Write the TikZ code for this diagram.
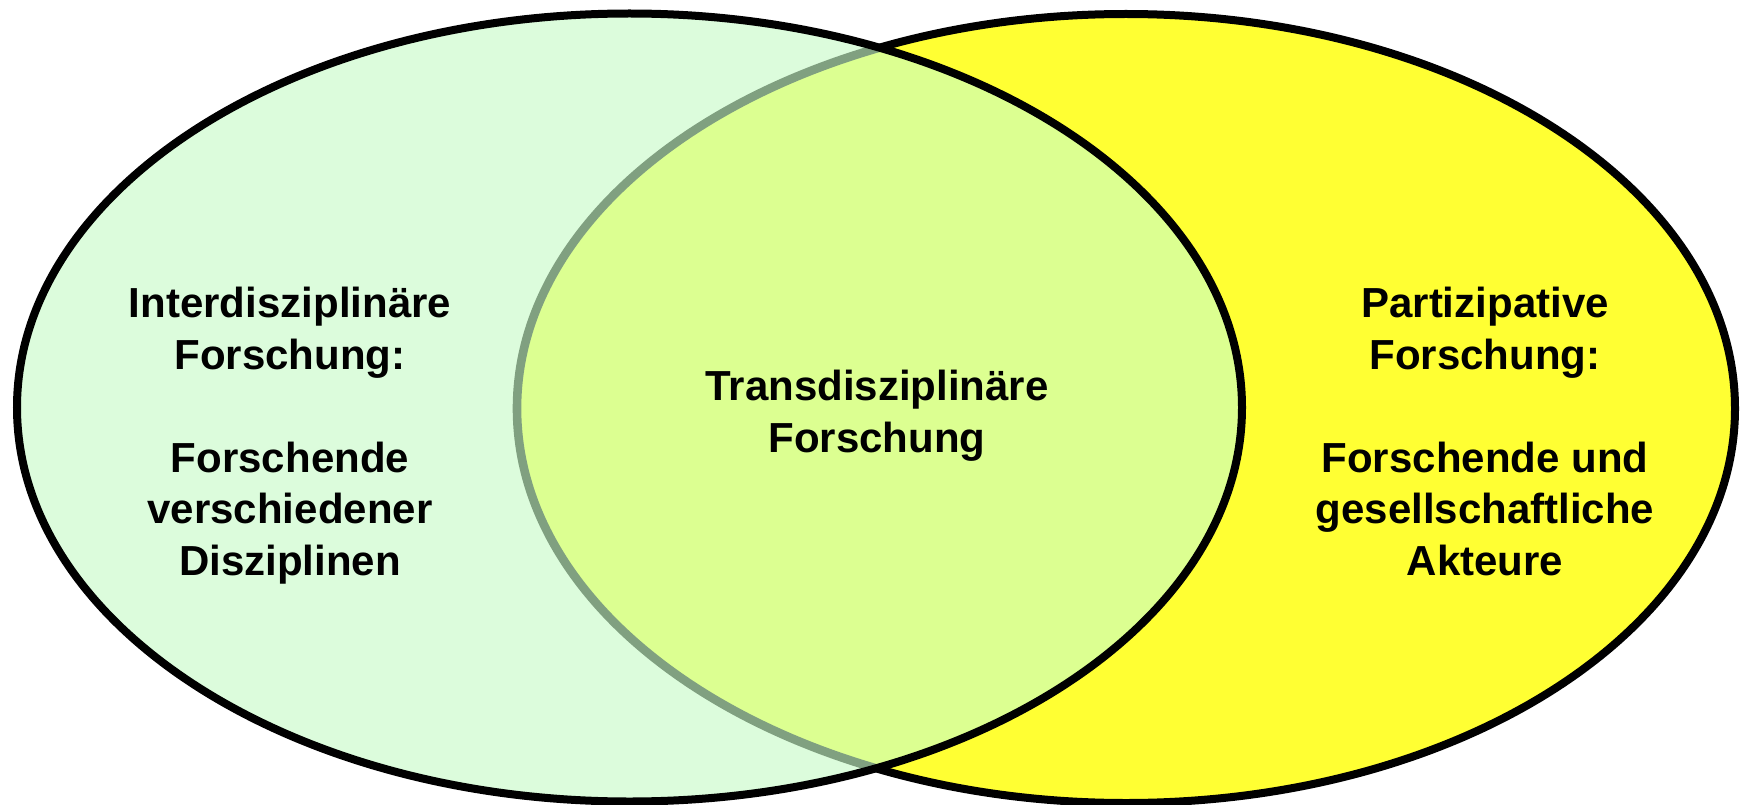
\documentclass[tikz,border=0pt]{standalone}
\usepackage{fontspec}
\setmainfont{Liberation Sans}
\definecolor{leftfill}{HTML}{DCFCDC}
\definecolor{rightfill}{HTML}{FFFF33}
\definecolor{overlapfill}{HTML}{DCFF91}
\definecolor{innerline}{HTML}{80A080}
\begin{document}
\begin{tikzpicture}[x=1pt,y=-1pt,
  txt/.style={font=\bfseries\fontsize{42}{51.5}\selectfont, align=center, anchor=base, inner sep=0pt},
  rim/.style={line width=8pt, draw=black},
  innerrim/.style={line width=8.6pt, draw=innerline}]
\useasboundingbox (0,0) rectangle (1740,805);
\def\leftell{(629.5,407.5) ellipse [x radius=612.5pt, y radius=394pt]}
\def\rightell{(1126,408.5) ellipse [x radius=609pt, y radius=394.5pt]}
\fill[rightfill] \rightell;
\draw[rim] \rightell;
\fill[leftfill] \leftell;
\begin{scope}
  \clip \leftell;
  \fill[overlapfill] \rightell;
  \draw[innerrim] \rightell;
\end{scope}
\draw[rim] \leftell;
\node[txt] (inter) at (290,575) {Interdisziplinäre\\Forschung:\\[51.5pt]Forschende\\verschiedener\\Disziplinen};
\node[txt] (trans) at (877,452) {Transdisziplinäre\\Forschung};
\node[txt] (partiz) at (1485,575) {Partizipative\\Forschung:\\[51.5pt]Forschende und\\gesellschaftliche\\Akteure};
\end{tikzpicture}
\end{document}
